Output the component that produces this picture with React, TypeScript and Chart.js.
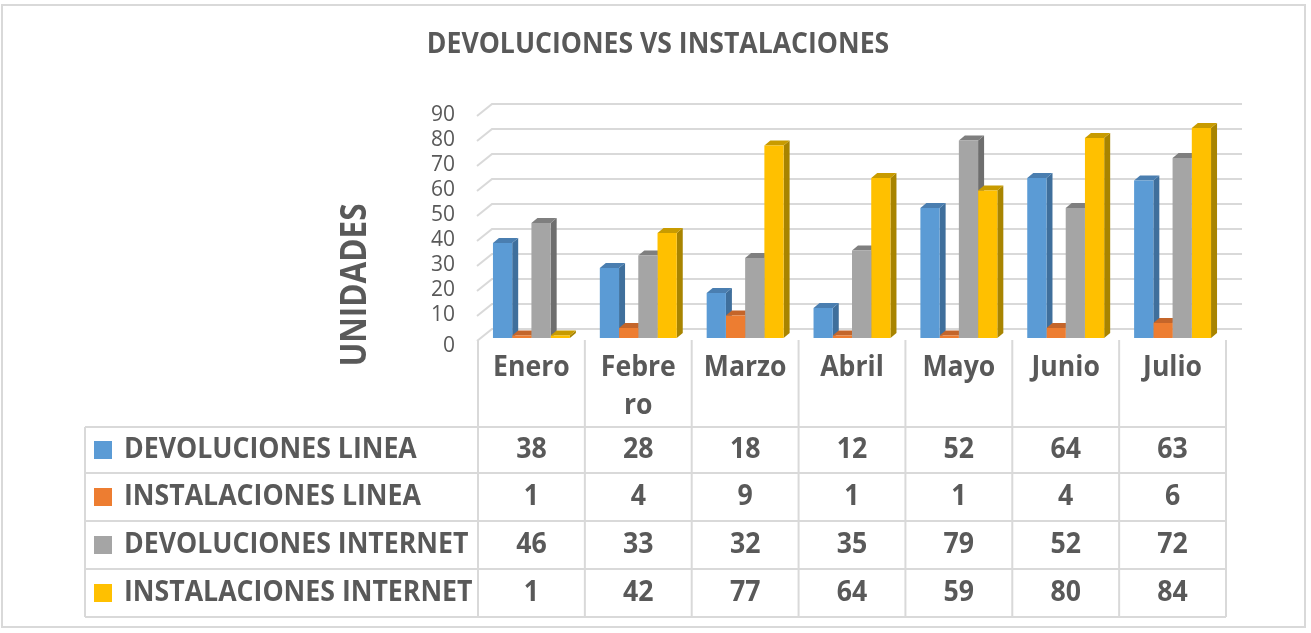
import React, { useEffect, useRef } from 'react';
import { Chart, registerables } from 'chart.js';

Chart.register(...registerables);

const chartTitle = 'DEVOLUCIONES VS INSTALACIONES';
const axisTitle = 'UNIDADES';
const categories = ['Enero', 'Febrero', 'Marzo', 'Abril', 'Mayo', 'Junio', 'Julio'];
const seriesNames = ['DEVOLUCIONES LINEA', 'INSTALACIONES LINEA', 'DEVOLUCIONES INTERNET', 'INSTALACIONES INTERNET'];
const devolucionesLinea = [38, 28, 18, 12, 52, 64, 63];
const instalacionesLinea = [1, 4, 9, 1, 1, 4, 6];
const devolucionesInternet = [46, 33, 32, 35, 79, 52, 72];
const instalacionesInternet = [1, 42, 77, 64, 59, 80, 84];
const yTicks = [0, 10, 20, 30, 40, 50, 60, 70, 80, 90];

const frontColors = ['#5B9BD5', '#ED7D31', '#A5A5A5', '#FFC000'];
const sideColors = ['#3F6F9C', '#AD5A22', '#6E6E6E', '#A88400'];
const topColors = ['#4A7EB0', '#C4652A', '#7F7F7F', '#C89B00'];

const TEXT = '#595959';
const LINE = '#D9D9D9';
const FONT = '"Open Sans", "DejaVu Sans", sans-serif';

function drawText(ctx: CanvasRenderingContext2D, s: string, x: number, y: number, font: string, align: CanvasTextAlign, sx = 1) {
  ctx.save();
  ctx.font = font;
  ctx.fillStyle = TEXT;
  ctx.textBaseline = 'middle';
  ctx.textAlign = align;
  ctx.translate(x, y);
  ctx.scale(sx, 1);
  ctx.fillText(s, 0, 0);
  ctx.restore();
}

function wrapText(ctx: CanvasRenderingContext2D, s: string, font: string, maxW: number, sx: number): string[] {
  ctx.save();
  ctx.font = font;
  const lines: string[] = [];
  let rest = s;
  while (rest.length) {
    let n = rest.length;
    while (n > 1 && ctx.measureText(rest.slice(0, n)).width * sx > maxW) n--;
    lines.push(rest.slice(0, n));
    rest = rest.slice(n);
  }
  ctx.restore();
  return lines;
}

const DX = 6; // bar depth
const DY = 5;
const WALL_DX = 15;
const WALL_BACK = 9;

const excelPlugin = {
  id: 'excel3d',
  beforeDraw(chart: any) {
    const ctx: CanvasRenderingContext2D = chart.ctx;
    ctx.save();
    ctx.fillStyle = '#FFFFFF';
    ctx.fillRect(0, 0, chart.width, chart.height);
    ctx.strokeStyle = LINE;
    ctx.lineWidth = 2;
    ctx.strokeRect(2, 5, 1303, 622);
    ctx.restore();
  },
  beforeDatasetsDraw(chart: any) {
    const ctx: CanvasRenderingContext2D = chart.ctx;
    const ys = chart.scales.y;
    const area = chart.chartArea;
    ctx.save();
    ctx.strokeStyle = LINE;
    ctx.lineWidth = 2;
    for (const v of yTicks) {
      const yf = ys.getPixelForValue(v);
      const yb = yf - WALL_BACK;
      ctx.beginPath();
      ctx.moveTo(area.left - 1, yf + 3);
      ctx.lineTo(area.left - 1 + WALL_DX, yb);
      ctx.lineTo(area.right + 16, yb);
      ctx.stroke();
    }
    chart.data.datasets.forEach((_ds: any, i: number) => {
      const meta = chart.getDatasetMeta(i);
      meta.data.forEach((el: any) => {
        const p = el.getProps(['x', 'y', 'base', 'width'], true);
        const x0 = p.x - p.width / 2;
        const x1 = p.x + p.width / 2;
        const top = p.y;
        const bot = p.base;
        ctx.fillStyle = sideColors[i];
        ctx.beginPath();
        ctx.moveTo(x1, top);
        ctx.lineTo(x1 + DX, top - DY);
        ctx.lineTo(x1 + DX, bot - DY);
        ctx.lineTo(x1, bot);
        ctx.closePath();
        ctx.fill();
        ctx.fillStyle = topColors[i];
        ctx.beginPath();
        ctx.moveTo(x0, top);
        ctx.lineTo(x0 + DX, top - DY);
        ctx.lineTo(x1 + DX, top - DY);
        ctx.lineTo(x1, top);
        ctx.closePath();
        ctx.fill();
      });
    });
    ctx.restore();
  },
  afterDraw(chart: any) {
    const ctx: CanvasRenderingContext2D = chart.ctx;
    const ys = chart.scales.y;
    const area = chart.chartArea;
    const n = categories.length;
    const colW = (area.right - area.left) / n;

    drawText(ctx, chartTitle, 658, 45, `bold 28px ${FONT}`, 'center', 0.95);

    ctx.save();
    ctx.translate(356, 285);
    ctx.rotate(-Math.PI / 2);
    drawText(ctx, axisTitle, 0, 0, `bold 35px ${FONT}`, 'center', 0.9);
    ctx.restore();

    for (const v of yTicks) {
      const yf = ys.getPixelForValue(v);
      drawText(ctx, String(v), 455, yf + (v === 0 ? 8 : 2), `21px ${FONT}`, 'right');
    }

    const tableLeft = 85;
    const rowTops = [427, 473, 521, 569, 617];
    ctx.save();
    ctx.strokeStyle = LINE;
    ctx.lineWidth = 2;
    ctx.beginPath();
    for (let j = 0; j <= n; j++) {
      const x = area.left + j * colW;
      ctx.moveTo(x, 340);
      ctx.lineTo(x, rowTops[rowTops.length - 1]);
    }
    ctx.moveTo(tableLeft, rowTops[0]);
    ctx.lineTo(tableLeft, rowTops[rowTops.length - 1]);
    for (const y of rowTops) {
      ctx.moveTo(tableLeft, y);
      ctx.lineTo(area.right, y);
    }
    ctx.stroke();
    ctx.restore();

    const catFont = `bold 28px ${FONT}`;
    categories.forEach((c, j) => {
      const cx = area.left + (j + 0.5) * colW;
      const lines = wrapText(ctx, c, catFont, colW - 23, 0.95);
      lines.forEach((ln, k) => drawText(ctx, ln, cx, 368 + k * 38, catFont, 'center', 0.95));
    });

    const valFont = `bold 29px ${FONT}`;
    chart.data.datasets.forEach((ds: any, i: number) => {
      const cy = (rowTops[i] + rowTops[i + 1]) / 2;
      ctx.save();
      ctx.fillStyle = frontColors[i];
      ctx.fillRect(94, cy - 9, 18, 18);
      ctx.restore();
      drawText(ctx, seriesNames[i], 124, cy, valFont, 'left', 0.92);
      ds.data.forEach((v: number, j: number) => {
        const cx = area.left + (j + 0.5) * colW;
        drawText(ctx, String(v), cx, cy, valFont, 'center', 0.92);
      });
    });
  },
};

export default function App() {
  const ref = useRef<HTMLCanvasElement | null>(null);
  useEffect(() => {
    if (!ref.current) return;
    const seriesValues = [devolucionesLinea, instalacionesLinea, devolucionesInternet, instalacionesInternet];
    const chart = new Chart(ref.current, {
      type: 'bar',
      data: {
        labels: categories,
        datasets: seriesValues.map((vals, i) => ({
          label: seriesNames[i],
          data: vals,
          backgroundColor: frontColors[i],
          borderWidth: 0,
          categoryPercentage: 0.72,
          barPercentage: 1.0,
        })),
      },
      options: {
        responsive: false,
        animation: false,
        devicePixelRatio: 1,
        layout: { padding: { left: 478, right: 85, top: 113, bottom: 295 } },
        plugins: { legend: { display: false }, title: { display: false }, tooltip: { enabled: false } },
        scales: {
          x: { display: false },
          y: { display: false, min: 0, max: 90 },
        },
      },
      plugins: [excelPlugin],
    } as any);
    return () => chart.destroy();
  }, []);
  return (
    <div style={{ position: 'fixed', left: 0, top: 0, width: 1311, height: 633, background: '#fff' }}>
      <canvas ref={ref} width={1311} height={633} style={{ display: 'block' }} />
    </div>
  );
}
